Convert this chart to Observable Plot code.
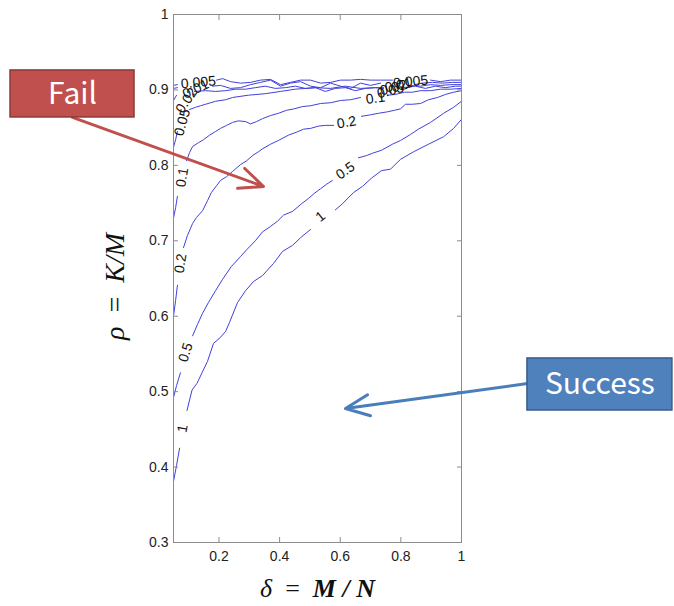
<!DOCTYPE html>
<html><head><meta charset="utf-8">
<script src="https://cdn.jsdelivr.net/npm/d3@7"></script>
<script src="https://cdn.jsdelivr.net/npm/@observablehq/plot@0.6"></script>
<style>html,body{margin:0;padding:0;background:#fff;overflow:hidden}</style>
</head><body><div id="chart"></div>
<script>
// ---- axis definitions ----
const xDomain = [0.05, 1];
const yDomain = [0.3, 1];
const xTicks = [0.2, 0.4, 0.6, 0.8, 1];
const xTickLabels = ["0.2", "0.4", "0.6", "0.8", "1"];
const yTicks = [0.3, 0.4, 0.5, 0.6, 0.7, 0.8, 0.9, 1];
const yTickLabels = ["0.3", "0.4", "0.5", "0.6", "0.7", "0.8", "0.9", "1"];
const xTitle = "δ = M / N";
const yTitle = "ρ = K/M";

// ---- contour lines (each contour split into segments where labels sit) ----
const c_1 = [
  [[0.050,0.381],[0.060,0.402],[0.070,0.425]],
  [[0.0945,0.475],[0.111,0.502],[0.1275,0.511],[0.144,0.525],[0.162,0.540],[0.182,0.564],[0.205,0.572],[0.222,0.580],[0.235,0.592],[0.261,0.618],[0.288,0.634],[0.314,0.646],[0.344,0.654],[0.380,0.670],[0.410,0.686],[0.443,0.694],[0.469,0.704],[0.502,0.715]],
  [[0.584,0.741],[0.607,0.749],[0.644,0.764],[0.673,0.772],[0.703,0.783],[0.736,0.793],[0.766,0.795],[0.799,0.808],[0.842,0.818],[0.891,0.828],[0.941,0.838],[0.974,0.849],[1.000,0.861]]
];
const c_05 = [
  [[0.050,0.492],[0.060,0.508],[0.073,0.525]],
  [[0.113,0.574],[0.129,0.589],[0.146,0.604],[0.165,0.618],[0.189,0.634],[0.212,0.649],[0.241,0.666],[0.271,0.679],[0.291,0.688],[0.320,0.700],[0.344,0.712],[0.370,0.719],[0.393,0.726],[0.413,0.734],[0.443,0.739],[0.472,0.749],[0.495,0.756],[0.515,0.763],[0.535,0.769],[0.555,0.775],[0.574,0.780]],
  [[0.660,0.810],[0.687,0.813],[0.706,0.816],[0.736,0.820],[0.772,0.828],[0.799,0.833],[0.832,0.841],[0.858,0.848],[0.898,0.857],[0.941,0.869],[0.974,0.877],[1.000,0.885]]
];
const c_02 = [
  [[0.050,0.600],[0.057,0.621],[0.063,0.641]],
  [[0.083,0.691],[0.096,0.707],[0.113,0.723],[0.126,0.731],[0.146,0.740],[0.162,0.753],[0.175,0.764],[0.192,0.773],[0.205,0.780],[0.225,0.785],[0.245,0.792],[0.271,0.801],[0.291,0.806],[0.311,0.813],[0.330,0.818],[0.344,0.822],[0.370,0.828],[0.396,0.833],[0.429,0.840],[0.456,0.844],[0.479,0.848],[0.502,0.849],[0.528,0.852],[0.551,0.853],[0.578,0.853]],
  [[0.670,0.865],[0.700,0.867],[0.726,0.869],[0.756,0.871],[0.779,0.873],[0.799,0.875],[0.815,0.881],[0.838,0.881],[0.865,0.882],[0.891,0.887],[0.921,0.890],[0.947,0.894],[0.974,0.897],[1.000,0.899]]
];
const c_01 = [
  [[0.050,0.730],[0.057,0.744],[0.063,0.759]],
  [[0.093,0.806],[0.103,0.817],[0.113,0.825],[0.132,0.830],[0.149,0.834],[0.169,0.840],[0.189,0.845],[0.205,0.849],[0.225,0.853],[0.245,0.857],[0.264,0.859],[0.288,0.858],[0.304,0.855],[0.324,0.858],[0.344,0.862],[0.370,0.866],[0.396,0.869],[0.423,0.873],[0.449,0.875],[0.476,0.878],[0.502,0.879],[0.535,0.882],[0.568,0.883],[0.601,0.886],[0.634,0.887],[0.667,0.890]],
  [[0.756,0.893],[0.782,0.894],[0.812,0.897],[0.838,0.897],[0.865,0.899],[0.898,0.899],[0.931,0.901],[0.964,0.901],[1.000,0.902]]
];
const c_005 = [
  [[0.050,0.824],[0.057,0.834],[0.063,0.845]],
  [[0.103,0.874],[0.123,0.877],[0.139,0.879],[0.156,0.881],[0.189,0.885],[0.222,0.887],[0.245,0.890],[0.297,0.893],[0.353,0.895],[0.403,0.898],[0.452,0.901],[0.518,0.903],[0.568,0.902],[0.617,0.905],[0.667,0.902],[0.716,0.903],[0.743,0.902]],
  [[0.805,0.903],[0.848,0.905],[0.881,0.902],[0.914,0.905],[0.947,0.903],[0.980,0.905],[1.000,0.905]]
];
const c_002 = [
  [[0.050,0.886],[0.060,0.893]],
  [[0.119,0.898],[0.156,0.899],[0.189,0.898],[0.222,0.899],[0.255,0.901],[0.288,0.901],[0.320,0.903],[0.353,0.905],[0.386,0.902],[0.419,0.903],[0.452,0.905],[0.485,0.902],[0.518,0.903],[0.551,0.898],[0.584,0.902],[0.617,0.903],[0.650,0.899],[0.683,0.902],[0.716,0.903],[0.743,0.903]],
  [[0.825,0.906],[0.865,0.905],[0.898,0.907],[0.931,0.906],[0.964,0.907],[1.000,0.907]]
];
const c_001 = [
  [[0.050,0.902],[0.063,0.903]],
  [[0.179,0.905],[0.205,0.906],[0.238,0.902],[0.271,0.903],[0.304,0.907],[0.337,0.910],[0.370,0.913],[0.403,0.905],[0.436,0.909],[0.469,0.911],[0.502,0.905],[0.535,0.903],[0.568,0.909],[0.601,0.905],[0.634,0.902],[0.667,0.909],[0.700,0.906],[0.733,0.909]],
  [[0.845,0.907],[0.871,0.909],[0.904,0.910],[0.937,0.909],[0.970,0.910],[1.000,0.910]]
];
const c_0005 = [
  [[0.050,0.906],[0.063,0.907]],
  [[0.192,0.913],[0.212,0.915],[0.238,0.911],[0.271,0.909],[0.304,0.910],[0.337,0.913],[0.370,0.914],[0.403,0.907],[0.436,0.910],[0.469,0.913],[0.502,0.913],[0.535,0.909],[0.568,0.910],[0.601,0.913],[0.634,0.913],[0.667,0.914],[0.700,0.913],[0.733,0.913],[0.772,0.913]],
  [[0.898,0.913],[0.931,0.911],[0.964,0.913],[1.000,0.913]]
];
const levels = ["1", "0.5", "0.2", "0.1", "0.05", "0.02", "0.01", "0.005"];
const contourList = [c_1, c_05, c_02, c_01, c_005, c_002, c_001, c_0005];

// ---- inline contour labels: [text, x, y, angle] ----
const labelsLeft = [
  ["1", 0.080, 0.451, -79], ["0.5", 0.090, 0.552, -72], ["0.2", 0.073, 0.670, -81],
  ["0.1", 0.079, 0.784, -80], ["0.05", 0.079, 0.857, -75], ["0.02", 0.093, 0.886, -55],
  ["0.01", 0.123, 0.901, -25], ["0.005", 0.132, 0.910, -5]
];
const labelsRight = [
  ["1", 0.535, 0.732, -39], ["0.5", 0.617, 0.793, -35], ["0.2", 0.621, 0.857, -10],
  ["0.1", 0.716, 0.889, -8], ["0.05", 0.766, 0.899, -15], ["0.02", 0.776, 0.903, -15],
  ["0.01", 0.792, 0.906, -12], ["0.005", 0.832, 0.911, -5]
];

// ---- annotations (data units) ----
const failBox = {x1: -0.4876, x2: -0.0786, y1: 0.9258, y2: 0.8635, text: "Fail"};
const failArrow = {x1: -0.2831, y1: 0.8635, x2: 0.3468, y2: 0.772};
const successBox = {x1: 1.2175, x2: 1.6957, y1: 0.544, y2: 0.475, text: "Success"};
const successArrow = {x1: 1.2175, y1: 0.5108, x2: 0.6173, y2: 0.4777};

// ---- build tables ----
const lineRows = contourList.flatMap((segs, li) =>
  segs.flatMap((seg, si) => seg.map(([x, y]) => ({key: levels[li] + "/" + si, x, y}))));
const labelRows = [...labelsLeft, ...labelsRight].map(([t, x, y, r]) => ({t, x, y, r}));
const boxText = [failBox, successBox].map(b => ({t: b.text, x: (b.x1 + b.x2) / 2, y: (b.y1 + b.y2) / 2}));

const axisStroke = "#8c8c8c";
const chart = Plot.plot({
  width: 674, height: 606,
  marginLeft: 173, marginRight: 213, marginTop: 14, marginBottom: 64,
  x: {domain: xDomain},
  y: {domain: yDomain},
  style: {fontFamily: "'Liberation Sans', Arial, sans-serif", fontSize: "14px", background: "white", overflow: "visible"},
  marks: [
    Plot.line(lineRows, {x: "x", y: "y", z: "key", stroke: "#4040dd", strokeWidth: 1}),
    Plot.text(labelRows, {x: "x", y: "y", text: "t", rotate: "r", fill: "#111", fontSize: 14}),
    Plot.frame({stroke: axisStroke}),
    Plot.axisX(xTicks, {anchor: "bottom", tickSize: -5, tickPadding: 14, stroke: axisStroke, fill: "#222", fontSize: 14,
      tickFormat: d => xTickLabels[xTicks.indexOf(d)], label: null}),
    Plot.axisX(xTicks, {anchor: "top", tickSize: -5, stroke: axisStroke, tickFormat: () => "", label: null}),
    Plot.axisY(yTicks, {anchor: "left", tickSize: -5, tickPadding: 10, stroke: axisStroke, fill: "#222", fontSize: 14,
      tickFormat: d => yTickLabels[yTicks.indexOf(d)], label: null}),
    Plot.axisY(yTicks, {anchor: "right", tickSize: -5, stroke: axisStroke, tickFormat: () => "", label: null}),
    Plot.text([xTitle], {text: d => d, frameAnchor: "bottom", textAnchor: "middle", dy: 46, fontSize: 26, fontFamily: "'Liberation Serif', serif", fontStyle: "italic", fill: "#111", lineAnchor: "middle"}),
    Plot.text([yTitle], {text: d => d, frameAnchor: "left", textAnchor: "middle", dx: -58, dy: 8, rotate: -90, fontSize: 28, fontFamily: "'Liberation Serif', serif", fontStyle: "italic", fill: "#111", lineAnchor: "middle"}),
    Plot.arrow([failArrow], {x1: "x1", y1: "y1", x2: "x2", y2: "y2", stroke: "#c0504d", strokeWidth: 3, headLength: 13, headAngle: 48}),
    Plot.arrow([successArrow], {x1: "x1", y1: "y1", x2: "x2", y2: "y2", stroke: "#4a7ebb", strokeWidth: 3, headLength: 13, headAngle: 48}),
    Plot.rect([failBox], {x1: "x1", x2: "x2", y1: "y1", y2: "y2", fill: "#c0504d", stroke: "#8c3836", strokeWidth: 1.5}),
    Plot.rect([successBox], {x1: "x1", x2: "x2", y1: "y1", y2: "y2", fill: "#4f81bd", stroke: "#385d8a", strokeWidth: 1.5}),
    Plot.text(boxText, {x: "x", y: "y", text: "t", fill: "white", fontSize: 30, fontFamily: "'Noto Sans CJK KR', 'Open Sans', sans-serif", lineAnchor: "middle"})
  ]
});
document.getElementById("chart").appendChild(chart);

// mixed italic / bold-italic math styling for the axis titles
d3.select(chart).selectAll("text").filter(function() { return this.textContent === xTitle; }).each(function() {
  const t = d3.select(this); t.text("");
  [["δ", 400], ["\u2002=\u2002", 400], ["M", 700], [" / ", 700], ["N", 700]].forEach(([s, w]) =>
    t.append("tspan").attr("font-weight", w).attr("font-style", s.includes("=") ? "normal" : "italic").text(s));
});
d3.select(chart).selectAll("text").filter(function() { return this.textContent === yTitle; }).each(function() {
  const t = d3.select(this); t.text("");
  [["ρ", "italic"], ["\u2002=\u2002", "normal"], ["K/M", "italic"]].forEach(([s, st]) =>
    t.append("tspan").attr("font-style", st).text(s));
});
</script>
</body></html>
